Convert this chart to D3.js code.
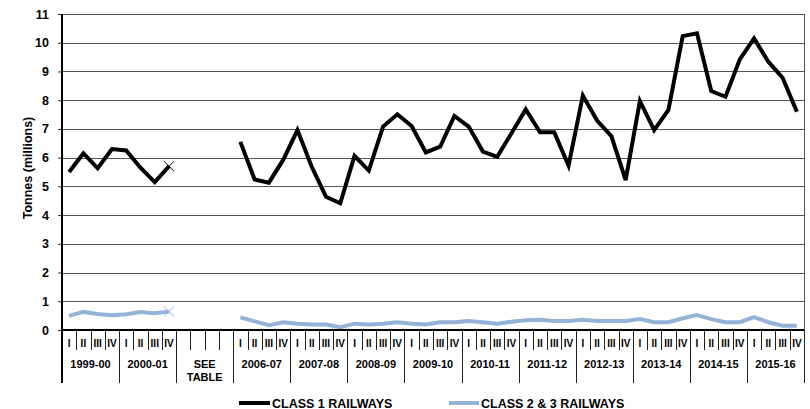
<!DOCTYPE html>
<html><head><meta charset="utf-8">
<script src="https://cdn.jsdelivr.net/npm/d3@7"></script>
<style>body{margin:0;background:#fff}svg{display:block;font-family:"Liberation Sans",Arial,sans-serif;font-weight:bold}</style>
</head><body><svg id="c" width="810" height="409"></svg>
<script>
const groups = ["1999-00","2000-01","SEE TABLE","2006-07","2007-08","2008-09","2009-10","2010-11","2011-12","2012-13","2013-14","2014-15","2015-16"];
const quarters = ["I","II","III","IV"];
const class1 = [5.5,6.15,5.63,6.3,6.25,5.65,5.15,5.7, null,null,null,null,
  6.55,5.24,5.13,5.92, 6.96,5.68,4.64,4.41, 6.06,5.55,7.08,7.51, 7.10,6.18,6.38,7.45,
  7.08,6.21,6.03,6.85, 7.68,6.88,6.88,5.72, 8.16,7.29,6.75,5.22, 7.97,6.96,7.66,10.23,
  10.33,8.32,8.12,9.42, 10.15,9.34,8.78,7.60];
const class23 = [0.49,0.63,0.56,0.51,0.55,0.63,0.58,0.64, null,null,null,null,
  0.44,0.30,0.17,0.27, 0.22,0.19,0.19,0.10, 0.22,0.19,0.22,0.27, 0.22,0.19,0.27,0.27,
  0.31,0.27,0.22,0.29, 0.34,0.36,0.31,0.31, 0.36,0.31,0.31,0.31, 0.38,0.27,0.27,0.41,
  0.52,0.38,0.27,0.27, 0.45,0.27,0.15,0.15];
const yTicks = [0,1,2,3,4,5,6,7,8,9,10,11];
const seriesNames = ["CLASS 1 RAILWAYS","CLASS 2 & 3 RAILWAYS"];
const colors = ["#000000","#95b3d7"];

const svg = d3.select("#c");
const L = 62, R = 804, T = 14, B = 330;
const cats = [];
groups.forEach((g,gi)=>quarters.forEach((q,qi)=>cats.push({id:gi*4+qi, g, q: g==="SEE TABLE" ? "" : q})));
const x = d3.scaleBand().domain(cats.map(d=>d.id)).range([L,R]).padding(0);
const y = d3.scaleLinear().domain([0,11]).range([B,T]);
const cx = i => x(i) + x.bandwidth()/2;

// gridlines
svg.append("g").selectAll("line").data(yTicks.filter(t=>t>0)).join("line")
  .attr("x1",L).attr("x2",R).attr("y1",d=>Math.round(y(d))+0.5).attr("y2",d=>Math.round(y(d))+0.5)
  .attr("stroke","#555").attr("stroke-width",1);
// right border
svg.append("line").attr("x1",R+0.5).attr("x2",R+0.5).attr("y1",y(11)).attr("y2",B).attr("stroke","#555");

// y axis
const ya = svg.append("g").attr("transform",`translate(${L},0)`)
  .call(d3.axisLeft(y).tickValues(yTicks).tickSize(4).tickPadding(9).tickFormat(d3.format("d")));
ya.select(".domain").remove();
ya.selectAll(".tick line").attr("stroke","#333");
ya.selectAll("text").attr("font-size",12.5).attr("font-family","Liberation Sans, Arial").attr("font-weight","bold").attr("fill","#000");

// x axis ticks
const bounds = d3.range(0, cats.length+1);
svg.append("g").selectAll("line").data(bounds).join("line")
  .attr("x1",i=> i<cats.length ? Math.round(x(i))+0.5 : R+0.5)
  .attr("x2",i=> i<cats.length ? Math.round(x(i))+0.5 : R+0.5)
  .attr("y1",B).attr("y2",i=> i%4===0 ? 383 : 350)
  .attr("stroke","#222").attr("stroke-width",1);

// quarter labels
svg.append("g").selectAll("text").data(cats).join("text")
  .attr("x",d=>cx(d.id)).attr("y",347).attr("text-anchor","middle")
  .attr("font-size",10).text(d=>d.q);
// group labels
const gl = svg.append("g").selectAll("text").data(groups).join("text")
  .attr("x",(d,i)=>(x(i*4)+ (i*4+4<cats.length? x(i*4+4):R))/2)
  .attr("y",368).attr("text-anchor","middle").attr("font-size",11);
gl.each(function(d){
  const t = d3.select(this);
  if(d==="SEE TABLE"){
    t.append("tspan").attr("x",t.attr("x")).attr("dy",0).text("SEE");
    t.append("tspan").attr("x",t.attr("x")).attr("dy",13).text("TABLE");
  } else t.text(d);
});

// axes lines
svg.append("line").attr("x1",L).attr("x2",L).attr("y1",T).attr("y2",383).attr("stroke","#000").attr("stroke-width",2);
svg.append("line").attr("x1",L).attr("x2",R).attr("y1",B).attr("y2",B).attr("stroke","#000").attr("stroke-width",2);

// series
const line = d3.line().defined(d=>d.v!=null).x(d=>cx(d.i)).y(d=>y(d.v));
[class23, class1].forEach((s,k)=>{
  const col = k===0 ? colors[1] : colors[0];
  svg.append("path").datum(s.map((v,i)=>({v,i}))).attr("d",line)
    .attr("fill","none").attr("stroke",col).attr("stroke-width",4).attr("stroke-linejoin","miter");
  const xi = 7, px = cx(xi), py = y(s[xi]), r = 5;
  svg.append("path").attr("d",`M${px-r},${py-r}L${px+r},${py+r}M${px-r},${py+r}L${px+r},${py-r}`)
    .attr("stroke",col).attr("stroke-width",1).attr("fill","none");
});

// axis title
svg.append("text").attr("transform","translate(32,168) rotate(-90)").attr("text-anchor","middle")
  .attr("font-size",12.5).text("Tonnes (millions)");

// legend
const leg = [{x1:239,x2:270,tx:272},{x1:449,x2:479,tx:481}];
leg.forEach((l,k)=>{
  svg.append("line").attr("x1",l.x1).attr("x2",l.x2).attr("y1",403).attr("y2",403)
    .attr("stroke",colors[k]).attr("stroke-width",4);
  svg.append("text").attr("x",l.tx).attr("y",407.5).attr("font-size",12.5).text(seriesNames[k]);
});
</script></body></html>
